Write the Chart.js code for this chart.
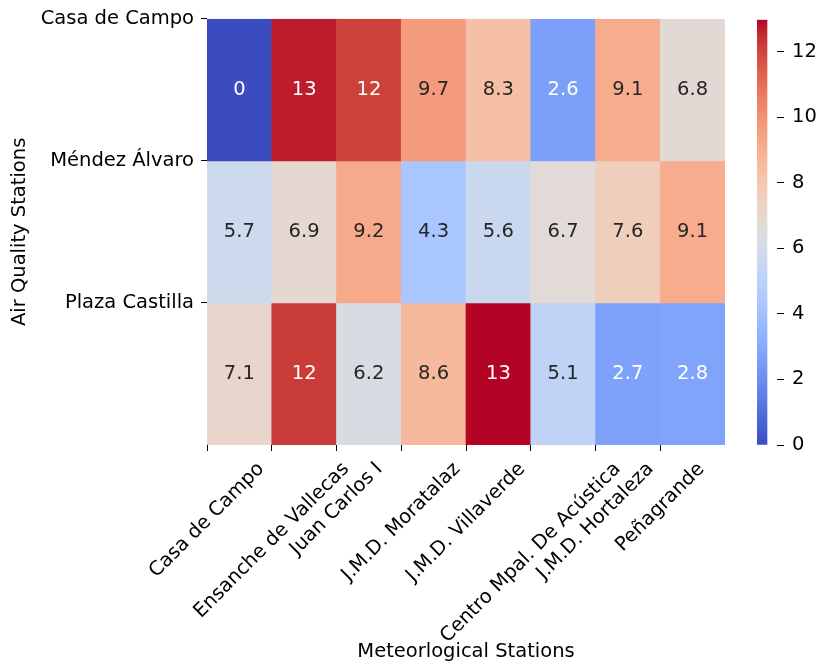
<!DOCTYPE html>
<html><head><meta charset="utf-8">
<script src="https://cdn.jsdelivr.net/npm/chart.js@4.4.1/dist/chart.umd.min.js"></script>
<style>
html,body{margin:0;padding:0;background:#fff;}
#wrap{position:relative;width:817px;height:667px;overflow:hidden;}
#main{position:absolute;left:0;top:0;}
#cbar{position:absolute;left:730px;top:0;}
</style></head><body>
<div id="wrap"><canvas id="main" width="817" height="667"></canvas><canvas id="cbar" width="87" height="667"></canvas></div>
<script>
// ---- data ----
const meteoStations = ['Casa de Campo','Ensanche de Vallecas','Juan Carlos I','J.M.D. Moratalaz','J.M.D. Villaverde','Centro Mpal. De Acústica','J.M.D. Hortaleza','Peñagrande'];
const airStations = ['Casa de Campo','Méndez Álvaro','Plaza Castilla'];
const casaDeCampo   = [0, 12.7, 12.1, 9.7, 8.3, 2.6, 9.1, 6.8];
const mendezAlvaro  = [5.7, 6.9, 9.2, 4.3, 5.6, 6.7, 7.6, 9.1];
const plazaCastilla = [7.1, 12.2, 6.2, 8.6, 12.97, 5.1, 2.7, 2.8];
const colorbarTicks = [0, 2, 4, 6, 8, 10, 12];

const rows = [casaDeCampo, mendezAlvaro, plazaCastilla];
const allVals = rows.flat();
const vmin = Math.min(...allVals), vmax = Math.max(...allVals);

// coolwarm colormap (Moreland)
const CW = [[59,76,192],[68,90,204],[77,104,215],[87,117,225],[98,130,234],[108,142,241],[119,154,247],[130,165,251],[141,176,254],[152,185,255],[163,194,255],[174,201,253],[184,208,249],[194,213,244],[204,217,238],[213,219,230],[221,221,221],[229,216,209],[236,211,197],[241,204,185],[245,196,173],[247,187,160],[247,177,148],[247,166,135],[244,154,123],[241,141,111],[236,127,99],[229,112,88],[222,96,77],[213,80,66],[203,62,56],[192,40,47],[180,4,38]];
function cmapRGB(t){
  t = Math.max(0, Math.min(1, t));
  const p = t*(CW.length-1), i = Math.min(CW.length-2, Math.floor(p)), f = p - i;
  return CW[i].map((c,k)=>Math.round(c + (CW[i+1][k]-c)*f));
}
function colorFor(v){ const c = cmapRGB((v - vmin)/(vmax - vmin)); return `rgb(${c[0]},${c[1]},${c[2]})`; }
function textColorFor(v){
  const c = cmapRGB((v - vmin)/(vmax - vmin)).map(x=>{x/=255; return x<=0.03928? x/12.92 : Math.pow((x+0.055)/1.055,2.4);});
  const lum = 0.2126*c[0]+0.7152*c[1]+0.0722*c[2];
  return lum > 0.408 ? '#262626' : '#ffffff';
}
function fmt(v){ return String(parseFloat(v.toPrecision(2))); }

const FONT = '"DejaVu Sans", sans-serif';
const FS = 19.5;

const datasets = rows.map((vals, r) => ({
  label: airStations[r],
  data: vals.map((v, i) => ({x: i + 0.5, y: [r, r + 1]})),
  backgroundColor: (ctx) => colorFor(rows[r][ctx.dataIndex]),
  borderWidth: 0,
  grouped: false,
  barPercentage: 1,
  categoryPercentage: 1
}));

const annotPlugin = {
  id: 'annot',
  afterDatasetsDraw(chart){
    const ctx = chart.ctx, xs = chart.scales.x, ys = chart.scales.y;
    ctx.save();
    ctx.font = `${FS}px ${FONT}`;
    ctx.textAlign = 'center'; ctx.textBaseline = 'middle';
    rows.forEach((vals, r) => vals.forEach((v, i) => {
      ctx.fillStyle = textColorFor(v);
      ctx.fillText(fmt(v), xs.getPixelForValue(i + 0.5), ys.getPixelForValue(r + 0.5));
    }));
    ctx.restore();
  },
  afterDraw(chart){
    const ctx = chart.ctx, xs = chart.scales.x, ys = chart.scales.y;
    ctx.save();
    ctx.font = `${FS}px ${FONT}`;
    ctx.fillStyle = '#000';
    ctx.textAlign = 'center'; ctx.textBaseline = 'middle';
    const y0 = ys.bottom + 13;
    meteoStations.forEach((lab, i) => {
      const px = xs.getPixelForValue(i);
      const L = ctx.measureText(lab).width, h = FS * 1.17;
      const H = (L + h) * Math.SQRT1_2;
      ctx.save();
      ctx.translate(px, y0 + H/2);
      ctx.rotate(-Math.PI/4);
      ctx.fillText(lab, 0, 0);
      ctx.restore();
    });
    ctx.restore();
  }
};

new Chart(document.getElementById('main'), {
  type: 'bar',
  data: { datasets },
  options: {
    responsive: false, animation: false,
    layout: { padding: { left: 0, top: 16, right: 92, bottom: 0 } },
    plugins: { legend: { display: false }, tooltip: { enabled: false } },
    scales: {
      x: {
        type: 'linear', min: 0, max: 8, offset: false,
        grid: { offset: false, drawOnChartArea: false, drawTicks: true, tickLength: 6, color: '#000', lineWidth: 1 },
        border: { display: false },
        ticks: { display: false, stepSize: 1 },
        afterBuildTicks: (s) => { s.ticks = s.ticks.filter(t => t.value < 8); },
        afterFit: (s) => { s.height = 222; },
        title: { display: true, text: 'Meteorlogical Stations', color: '#000', font: { family: FONT, size: FS }, padding: { top: 0, bottom: 3.3 } }
      },
      y: {
        type: 'linear', min: 0, max: 3, reverse: true,
        grid: { drawOnChartArea: false, drawTicks: true, tickLength: 6, color: '#000', lineWidth: 1 },
        border: { display: false },
        ticks: { stepSize: 1, color: '#000', padding: 7, font: { family: FONT, size: FS }, callback: (v) => airStations[v] ?? '' },
        afterBuildTicks: (s) => { s.ticks = s.ticks.filter(t => t.value < 3); },
        afterFit: (s) => { s.width = 207; },
        title: { display: true, text: 'Air Quality Stations', color: '#000', font: { family: FONT, size: FS }, padding: { top: 8.3, bottom: 0 } }
      }
    }
  },
  plugins: [annotPlugin]
});

// ---- colorbar ----
new Chart(document.getElementById('cbar'), {
  type: 'bar',
  data: {
    labels: [''],
    datasets: [{
      data: [[vmin, vmax]],
      borderWidth: 0, barPercentage: 1, categoryPercentage: 1,
      backgroundColor: (ctx) => {
        const ca = ctx.chart.chartArea;
        if (!ca) return '#ccc';
        const ys = ctx.chart.scales.y;
        const g = ctx.chart.ctx.createLinearGradient(0, ys.getPixelForValue(vmin), 0, ys.getPixelForValue(vmax));
        CW.forEach((c, k) => g.addColorStop(k/(CW.length-1), `rgb(${c[0]},${c[1]},${c[2]})`));
        return g;
      }
    }]
  },
  options: {
    responsive: false, animation: false,
    layout: { padding: { left: 27, top: 16, right: 0, bottom: 222 } },
    plugins: { legend: { display: false }, tooltip: { enabled: false } },
    scales: {
      x: { display: false, offset: false, grid: { offset: false } },
      y: {
        position: 'right', type: 'linear', min: vmin, max: vmax,
        grid: { drawOnChartArea: false, drawTicks: true, tickLength: 7, color: '#000', lineWidth: 1 },
        border: { display: false },
        ticks: { stepSize: 2, includeBounds: false, color: '#000', padding: 8, font: { family: FONT, size: FS } },
        afterBuildTicks: (s) => { s.ticks = colorbarTicks.map(v => ({ value: v })); },
        afterFit: (s) => { s.width = 40; }
      }
    }
  }
});
</script>
</body></html>
